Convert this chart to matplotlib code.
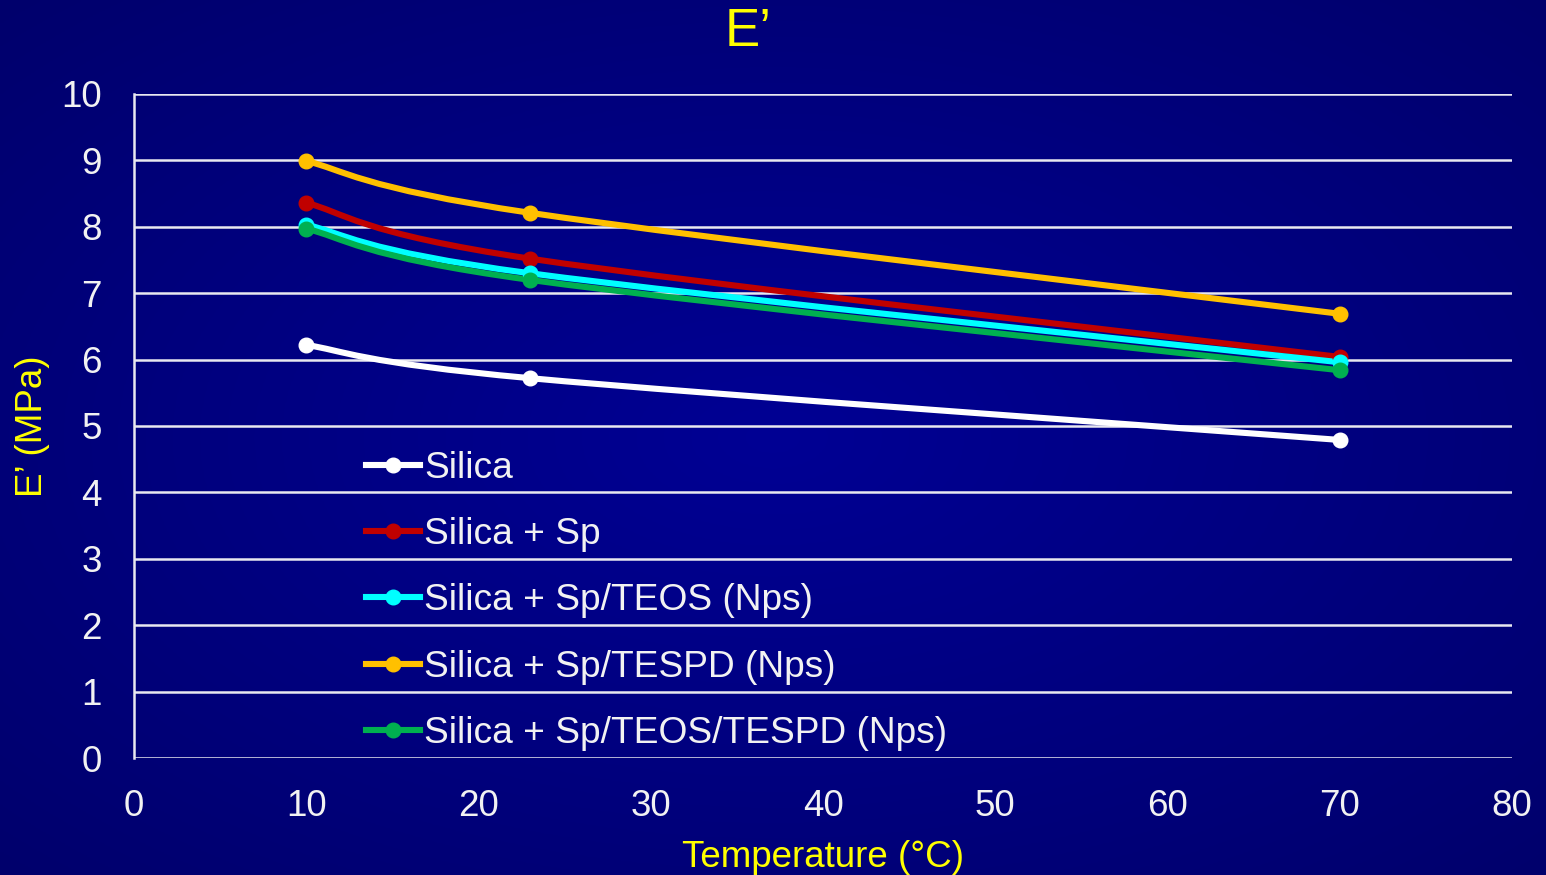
import numpy as np
import matplotlib.pyplot as plt
from matplotlib.path import Path
from matplotlib.patches import PathPatch
from matplotlib.lines import Line2D

plt.rcParams['font.family'] = ['Liberation Sans', 'DejaVu Sans']

temp = [10, 23, 70]
silica = [6.22, 5.72, 4.79]
silica_sp = [8.36, 7.52, 6.04]
sp_teos = [8.03, 7.30, 5.96]
sp_tespd = [8.99, 8.21, 6.69]
sp_teos_tespd = [7.97, 7.20, 5.84]

names = ["Silica", "Silica + Sp", "Silica + Sp/TEOS (Nps)",
         "Silica + Sp/TESPD (Nps)", "Silica + Sp/TEOS/TESPD (Nps)"]
series = [silica, silica_sp, sp_teos, sp_tespd, sp_teos_tespd]
colors = ["white", "#C00000", "#00FFFF", "#FFC000", "#00B050"]

xticks = [0, 10, 20, 30, 40, 50, 60, 70, 80]
yticks = [0, 1, 2, 3, 4, 5, 6, 7, 8, 9, 10]

yellow = "#FFFF00"
txt = "#F2F2F2"


def smooth_path(x, y, t=1 / 6):
    # cubic bezier through the points, control points from neighbours
    x = np.asarray(x, float)
    y = np.asarray(y, float)
    n = len(x)
    verts = [(x[0], y[0])]
    codes = [Path.MOVETO]
    for i in range(n - 1):
        p0 = (x[max(i - 1, 0)], y[max(i - 1, 0)])
        p1 = (x[i], y[i])
        p2 = (x[i + 1], y[i + 1])
        p3 = (x[min(i + 2, n - 1)], y[min(i + 2, n - 1)])
        c1 = (p1[0] + (p2[0] - p0[0]) * t, p1[1] + (p2[1] - p0[1]) * t)
        c2 = (p2[0] - (p3[0] - p1[0]) * t, p2[1] - (p3[1] - p1[1]) * t)
        verts += [c1, c2, p2]
        codes += [Path.CURVE4] * 3
    return Path(verts, codes)


fig = plt.figure(figsize=(15.46, 8.75), dpi=100)

# radial blue background
bg = fig.add_axes([0, 0, 1, 1], zorder=-10)
gy, gx = np.mgrid[-1:1:300j, -1:1:500j]
r = np.sqrt(gx ** 2 + gy ** 2) / np.sqrt(2)
c0 = np.array([0, 0, 0x94]) / 255
c1 = np.array([0, 0, 0x6C]) / 255
img = c0[None, None, :] * (1 - r[..., None]) + c1[None, None, :] * r[..., None]
bg.imshow(img, aspect='auto', extent=[0, 1, 0, 1])
bg.axis('off')

ax = fig.add_axes([0.0867, 0.1337, 0.8913, 0.7589])
ax.patch.set_alpha(0)

for vals, col, name in zip(series, colors, names):
    ax.add_patch(PathPatch(smooth_path(temp, vals), fill=False, edgecolor=col,
                           lw=4.4, capstyle='round', zorder=3))
    ax.plot(temp, vals, ls='none', marker='o', ms=10.5, color=col, zorder=4)

ax.set_xlim(0, 80)
ax.set_ylim(0, 10)
ax.set_xticks(xticks)
ax.set_yticks(yticks)
ax.grid(axis='y', color='#E8E8F0', lw=1.8)
ax.set_axisbelow(True)
for s in ['top', 'right', 'bottom']:
    ax.spines[s].set_visible(False)
ax.spines['left'].set_color('#E8E8F0')
ax.spines['left'].set_linewidth(1.8)
ax.tick_params(length=0, labelsize=26.5, labelcolor=txt)
ax.tick_params(axis='x', pad=22)
ax.tick_params(axis='y', pad=23)

ax.set_xlabel("Temperature (°C)", color=yellow, fontsize=26.5, labelpad=12)
fig.text(32 / 1546, 1 - 426 / 875, "E’ (MPa)", color=yellow, fontsize=26.5,
         rotation=90, ha='center', va='center')
fig.text(0.484, 0.963, "E’", color=yellow, fontsize=38, ha='center', va='center')

handles = [Line2D([], [], color=c, lw=4.4, marker='o', ms=10.5) for c in colors]
leg = ax.legend(handles, names, loc='upper left', bbox_to_anchor=(0.1575, 0.4845),
                frameon=False, fontsize=26.7, labelcolor=txt, handlelength=1.45,
                handletextpad=0.13, labelspacing=0.84, borderaxespad=0)

fig.savefig("out.png", dpi=100)
